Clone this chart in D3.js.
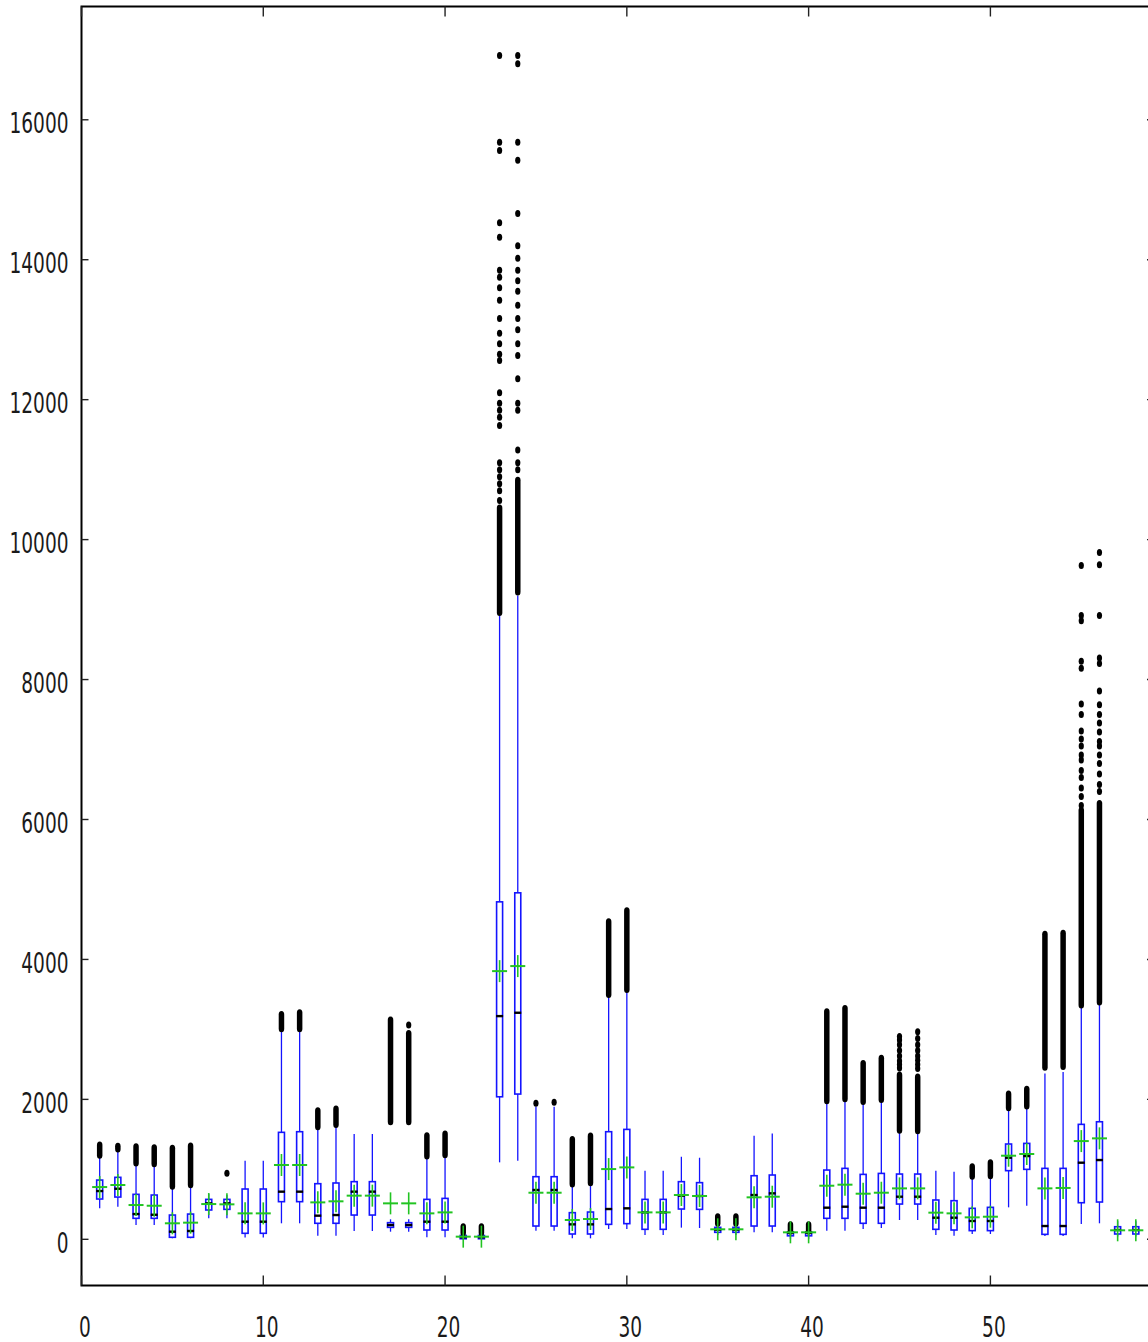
<!DOCTYPE html>
<html>
<head>
<meta charset="utf-8">
<script src="https://cdn.jsdelivr.net/npm/d3@7"></script>
<style>
  body { margin: 0; background: #fff; overflow: hidden; }
  text { font-family: "Liberation Sans Narrow", "DejaVu Sans Condensed", "Liberation Sans", sans-serif; fill: #1a1a1a; }
</style>
</head>
<body>
<div id="chart"></div>
<script>
// box positions 1..58
let boxX = d3.range(1, 59)

let whiskerLow  = [443,466,204,204,15,15,300,300,25,25, 229,229,52,52,119,119,109,109,29,29, 0,0,1100,1123,124,124,14,14,147,147, 62,62,167,162,60,60,100,100,5,5, 124,124,147,162,276,276,62,52,76,76, 457,480,47,47,219,229,40,40]
let q1          = [576,604,300,300,29,29,419,428,86,86, 538,538,229,229,347,347,171,171,133,133, 8,8,2037,2076,190,190,76,76,214,224, 143,143,433,428,100,100,190,190,50,50, 300,300,229,229,504,504,143,133,124,124, 981,1000,71,71,523,533,76,76]
let median      = [690,723,361,351,109,119,514,514,252,252, 681,681,338,347,681,681,204,204,252,252, 30,30,3190,3238,705,705,214,214,433,443, 385,385,624,619,137,137,633,657,95,95, 452,466,452,452,609,609,309,309,262,262, 1166,1190,190,190,1095,1133,133,133]
let q3          = [847,886,643,633,347,361,571,571,719,719, 1529,1538,795,805,824,824,238,238,571,585, 55,55,4823,4952,895,895,381,390,1538,1571, 571,571,824,810,171,171,909,919,105,105, 990,1014,928,942,933,933,562,552,443,457, 1362,1371,1014,1014,1643,1680,180,180]
let whiskerHigh = [1194,1252,1086,1076,752,776,650,633,1123,1123, 3000,3000,1600,1633,1504,1504,286,286,1180,1204, 85,85,8948,9200,1895,1895,776,800,3490,3561, 981,981,1180,1166,214,214,1480,1514,110,110, 1966,2000,1957,1990,1552,1538,981,966,886,895, 1871,1895,2370,2390,3333,3376,260,260]
let means       = [747,776,490,480,229,238,504,500,371,371, 1062,1062,528,543,624,624,514,514,371,385, 38,38,3833,3905,666,666,276,290,1004,1028, 385,385,633,619,143,143,600,609,100,100, 766,781,652,666,728,728,381,371,314,323, 1195,1219,728,734,1404,1443,129,129]

// dense runs of outliers, [low, high] per box
let outlierBands = [
  [[1200,1347]], [[1290,1330]], [[1090,1323]], [[1080,1309]], [[760,1300]], [[780,1333]], [], [], [], [],
  [[3010,3214]], [[3010,3238]], [[1610,1838]], [[1640,1861]], [], [], [[1681,3133]], [[1681,2943]], [[1190,1480]], [[1210,1504]],
  [[95,180]], [[95,180]], [[8960,10450]], [[9250,10850]], [], [], [[790,1428]], [[810,1476]], [[3500,4538]], [[3570,4695]],
  [], [], [], [], [[230,323]], [[230,323]], [], [], [[115,210]], [[115,210]],
  [[1980,3252]], [[2010,3300]], [[1970,2514]], [[2000,2586]], [[1560,2350]], [[1550,2320]], [], [], [[900,1038]], [[910,1095]],
  [[1880,2076]], [[1905,2143]], [[2460,4360]], [[2470,4374]], [[3350,6130]], [[3390,6230]], [], []
]

// single outliers that stand apart
let outlierPoints = [
  [], [], [], [], [], [], [], [943], [], [],
  [], [], [], [], [], [], [], [3062], [], [],
  [], [],
  [10560,10700,10800,10900,11000,11100,11630,11750,11850,11950,12100,12560,12650,12800,12950,13160,13420,13600,13750,13850,14320,14530,15560,15680,16920],
  [11000,11100,11280,11850,11950,12300,12630,12800,13000,13160,13350,13550,13700,13850,14020,14200,14660,15420,15680,16800,16920],
  [1943], [1960], [], [], [], [],
  [], [], [], [], [], [], [], [], [], [],
  [], [], [], [], [2450,2500,2550,2620,2700,2780,2850,2900], [2440,2500,2560,2620,2700,2780,2870,2966], [], [], [], [],
  [], [], [], [],
  [6200,6330,6450,6600,6700,6850,6920,7050,7150,7265,7500,7650,8160,8262,8840,8917,9630],
  [6400,6500,6650,6800,6920,7050,7115,7250,7380,7500,7640,7836,8229,8309,8917,9639,9816],
  [], []
]

let xTicks = [0, 10, 20, 30, 40, 50]
let yTicks = [0, 2000, 4000, 6000, 8000, 10000, 12000, 14000, 16000]

let width = 1148, height = 1342
let svg = d3.select('#chart').append('svg').attr('width', width).attr('height', height)

let x = d3.scaleLinear().domain([0, 59]).range([81.5, 1154])
let y = d3.scaleLinear().domain([-660, 17619]).range([1285.5, 6.5])

let blue = '#1414ff', green = '#22c422'
let boxW = 6

let g = svg.append('g')

// whiskers
g.selectAll('.wlo').data(boxX).enter().append('line')
  .attr('x1', d => x(d)).attr('x2', d => x(d))
  .attr('y1', (d, i) => y(whiskerLow[i])).attr('y2', (d, i) => y(q1[i]))
  .attr('stroke', blue).attr('stroke-width', 1.3)
g.selectAll('.whi').data(boxX).enter().append('line')
  .attr('x1', d => x(d)).attr('x2', d => x(d))
  .attr('y1', (d, i) => y(q3[i])).attr('y2', (d, i) => y(whiskerHigh[i]))
  .attr('stroke', blue).attr('stroke-width', 1.3)

// boxes
g.selectAll('.box').data(boxX).enter().append('rect')
  .attr('x', d => x(d) - boxW / 2).attr('width', boxW)
  .attr('y', (d, i) => y(q3[i]))
  .attr('height', (d, i) => Math.max(1, y(q1[i]) - y(q3[i])))
  .attr('fill', '#fff').attr('stroke', blue).attr('stroke-width', 1.6)

// medians
g.selectAll('.med').data(boxX).enter().append('line')
  .attr('x1', d => x(d) - boxW / 2 - 0.5).attr('x2', d => x(d) + boxW / 2 + 0.5)
  .attr('y1', (d, i) => y(median[i])).attr('y2', (d, i) => y(median[i]))
  .attr('stroke', '#000').attr('stroke-width', 2.4)

// outliers: dense runs as rounded bars, lone ones as dots
boxX.forEach((bx, i) => {
  outlierBands[i].forEach(b => {
    g.append('rect')
      .attr('x', x(bx) - 2.75).attr('width', 5.5)
      .attr('y', y(b[1]) - 3.5).attr('height', y(b[0]) - y(b[1]) + 7)
      .attr('rx', 2.75).attr('ry', 3.5).attr('fill', '#000')
  })
  outlierPoints[i].forEach(v => {
    g.append('ellipse')
      .attr('cx', x(bx)).attr('cy', y(v)).attr('rx', 2.6).attr('ry', 3.5).attr('fill', '#000')
  })
})

// means as green crosses
g.selectAll('.mh').data(boxX).enter().append('line')
  .attr('x1', d => x(d) - 7.5).attr('x2', d => x(d) + 7.5)
  .attr('y1', (d, i) => y(means[i])).attr('y2', (d, i) => y(means[i]))
  .attr('stroke', green).attr('stroke-width', 2)
g.selectAll('.mv').data(boxX).enter().append('line')
  .attr('x1', d => x(d)).attr('x2', d => x(d))
  .attr('y1', (d, i) => y(means[i]) - 11).attr('y2', (d, i) => y(means[i]) + 11)
  .attr('stroke', green).attr('stroke-width', 1.6)

// frame
svg.append('rect')
  .attr('x', x(0)).attr('y', y.range()[1])
  .attr('width', x(59) - x(0)).attr('height', y.range()[0] - y.range()[1])
  .attr('fill', 'none').attr('stroke', '#000').attr('stroke-width', 2)

// ticks, inward on all four sides
let tickG = svg.append('g').attr('stroke', '#222').attr('stroke-width', 1.4)
yTicks.forEach(t => {
  tickG.append('line').attr('x1', x(0)).attr('x2', x(0) + 7).attr('y1', y(t)).attr('y2', y(t))
  tickG.append('line').attr('x1', x(59)).attr('x2', x(59) - 7).attr('y1', y(t)).attr('y2', y(t))
})
xTicks.forEach(t => {
  tickG.append('line').attr('x1', x(t)).attr('x2', x(t)).attr('y1', y.range()[0]).attr('y2', y.range()[0] - 10)
  tickG.append('line').attr('x1', x(t)).attr('x2', x(t)).attr('y1', y.range()[1]).attr('y2', y.range()[1] + 10)
})

// tick labels
let charW = 11.8
svg.selectAll('.ylab').data(yTicks).enter().append('text')
  .attr('x', 68.5).attr('y', d => y(d) + 13.5)
  .attr('text-anchor', 'end').attr('font-size', 29)
  .attr('textLength', d => String(d).length * charW).attr('lengthAdjust', 'spacingAndGlyphs')
  .text(d => d)
svg.selectAll('.xlab').data(xTicks).enter().append('text')
  .attr('x', d => x(d) + 3.5).attr('y', 1337)
  .attr('text-anchor', 'middle').attr('font-size', 29)
  .attr('textLength', d => String(d).length * charW).attr('lengthAdjust', 'spacingAndGlyphs')
  .text(d => d)
</script>
</body>
</html>
